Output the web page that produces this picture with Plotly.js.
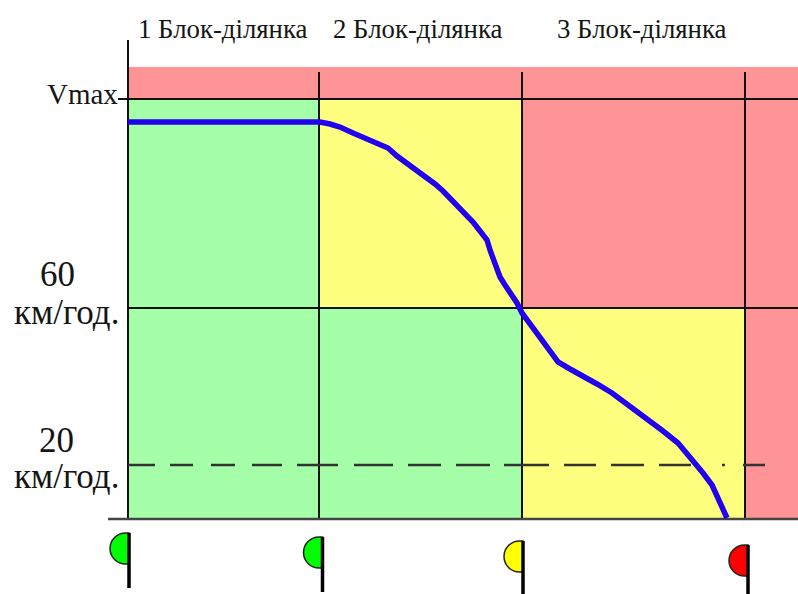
<!DOCTYPE html>
<html><head><meta charset="utf-8">
<script src="https://cdn.plot.ly/plotly-3.0.1.min.js"></script>
<style>html,body{margin:0;padding:0;background:#fff}</style></head>
<body><div id="c" style="width:798px;height:594px"></div>
<script>
// Schematic speed vs. distance. x = track position, y = height above the zero-speed line.
const blockBoundaries = [128, 319, 522, 745];
const xEnd = 798;
const speedVmax = 420, speed60 = 211, speed20 = 54, speedTop = 452;
const curveX = [128,320,330,340,353,365,377,388,397,407,417,427,435,443,450,457,465,473,480,487,490,495,500,505,510,517,522,530,538,548,558,570,582,597,612,630,648,663,678,686,695,703,712,720,724,727];
const curveY = [397,397,395,392,386,381,377,371,363,356,349,342,335,328,321,314,306,297,288,279,269,257,242,234,227,216,206,195,184,170,157,150,144,135,126,113,99,88,76,67,56,46,34,17,9,1];
const blockLabels = ["1 Блок-ділянка","2 Блок-ділянка","3 Блок-ділянка"];
const blockLabelX = [223,418,642];
const zoneColors = {green:"#a4ffa8", yellow:"#ffff7f", red:"#ff9496"};
const zoneX0 = [128,128,319,522,522,745,128];
const zoneX1 = [319,522,522,745,798,798,798];
const zoneY0 = [speed60,0,speed60,0,speed60,0,speedVmax];
const zoneY1 = [speedVmax,speed60,speedVmax,speed60,speedVmax,speed60,speedTop];
const zoneC  = ["green","green","yellow","yellow","red","red","red"];
const dashStart = [128,170,211,252,297,354,408,456,504,564,611,659,722,743];
const dashEnd   = [155,193,235,282,338,393,441,490,549,596,644,691,725,765];
const signalX = [129,322.5,523,748];
const signalTop = [-14,-18,-22,-26];
const signalColor = ["#00ff00","#00ff00","#ffff00","#ff0000"];
const signalRadius = 15.5, signalNeck = 3.5, poleLength = 55;

const serif = "Liberation Serif, Times New Roman, serif";
const shapes = [];
zoneC.forEach((c,i)=>shapes.push({type:"rect",layer:"below",x0:zoneX0[i],x1:zoneX1[i],y0:zoneY0[i],y1:zoneY1[i],fillcolor:zoneColors[c],line:{width:0}}));
const ln=(x0,y0,x1,y1,w,col)=>shapes.push({type:"line",layer:"below",x0,y0,x1,y1,line:{color:col||"#111",width:w||2}});
ln(128,0,128,479);
blockBoundaries.slice(1).forEach(x=>ln(x,0,x,447));
ln(118,speedVmax,xEnd,speedVmax);
ln(128,speed60,xEnd,speed60);
ln(108,0,xEnd,0,2.5,"#444");
dashStart.forEach((s,i)=>ln(s,speed20,dashEnd[i],speed20,2.5,"#333"));
signalX.forEach((x,i)=>{
  const r=signalRadius, t=signalTop[i], k=r*0.5523, cy=t-r, b=t-2*r, c=x-signalNeck;
  shapes.push({type:"path",layer:"above",fillcolor:signalColor[i],line:{color:"#222",width:1.5},
    path:`M${x},${t} L${c},${t} C${c-k},${t} ${c-r},${cy+k} ${c-r},${cy} C${c-r},${cy-k} ${c-k},${b} ${c},${b} L${x},${b} Z`});
  shapes.push({type:"line",layer:"above",x0:x,x1:x,y0:t,y1:t-poleLength,line:{color:"#000",width:3.5}});
});
const txt=(text,x,y,size)=>({text,x,y,xref:"x",yref:"y",showarrow:false,xanchor:"center",yanchor:"middle",font:{family:serif,size,color:"#151515"}});
const annotations=[
  ...blockLabels.map((t,i)=>txt(t,blockLabelX[i],490,26.8)),
  txt("Vmax",82,425,29),
  txt("60",57,245,35),txt("км/год.",66,207,35),
  txt("20",56,79,35),txt("км/год.",66,43,35)
];
Plotly.newPlot("c",[{type:"scatter",mode:"lines",x:curveX,y:curveY,line:{color:"#2200ee",width:5.5},hoverinfo:"skip"}],{
  width:798,height:594,margin:{l:0,r:0,t:0,b:0},paper_bgcolor:"#fff",plot_bgcolor:"#fff",showlegend:false,
  xaxis:{range:[0,798],visible:false,fixedrange:true},
  yaxis:{range:[-75,519],visible:false,fixedrange:true},
  shapes,annotations
},{displayModeBar:false,staticPlot:true});
</script></body></html>
